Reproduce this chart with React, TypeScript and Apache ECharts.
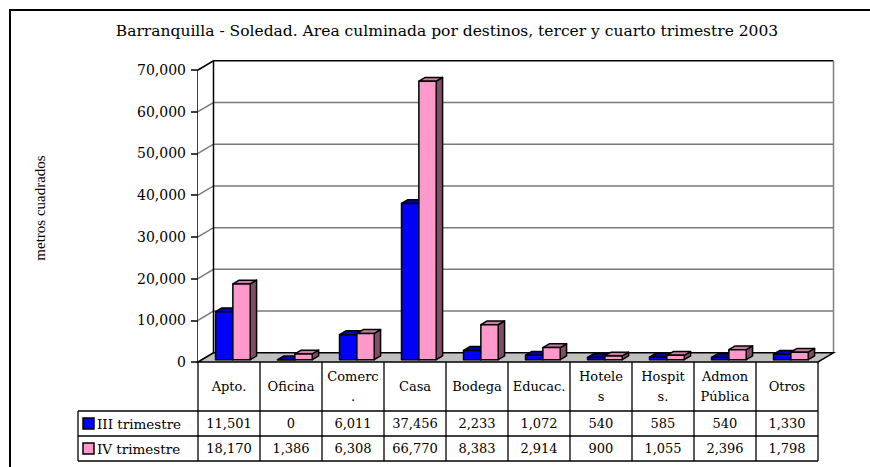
import React, { useEffect, useRef } from "react";
import * as echarts from "echarts";

const chartTitle =
  "Barranquilla - Soledad. Area culminada por destinos, tercer y cuarto trimestre 2003";
const yAxisTitle = "metros cuadrados";
const categories = [
  "Apto.",
  "Oficina",
  "Comerc\n.",
  "Casa",
  "Bodega",
  "Educac.",
  "Hotele\ns",
  "Hospit\ns.",
  "Admon\nPública",
  "Otros",
];
const seriesNames = ["III trimestre", "IV trimestre"];
const tercerTrimestre = [11501, 0, 6011, 37456, 2233, 1072, 540, 585, 540, 1330];
const cuartoTrimestre = [18170, 1386, 6308, 66770, 8383, 2914, 900, 1055, 2396, 1798];
const yTicks = [0, 10000, 20000, 30000, 40000, 50000, 60000, 70000];

const FRONT = ["#0000FF", "#FF99CC"];
const TOPC = ["#0000B8", "#CC7AA3"];
const SIDE = ["#000080", "#7F4D66"];
const SERIF = "'DejaVu Serif', serif";
const DX = 15.5;
const DY = -9.2;
const F0 = 0.25;
const F1 = 0.66;

const fmt = (v: number) => v.toLocaleString("en-US");

export default function App() {
  const ref = useRef<HTMLDivElement>(null);
  useEffect(() => {
    if (!ref.current) return;
    const chart = echarts.init(ref.current, undefined, { renderer: "svg" });
    const allSeries = [tercerTrimestre, cuartoTrimestre];

    const wallsRender = (params: any, api: any) => {
      const cs = params.coordSys;
      const x0 = cs.x, x1 = cs.x + cs.width, yT = cs.y, yB = cs.y + cs.height;
      const ch: any[] = [];
      ch.push({
        type: "polygon",
        shape: { points: [[x0, yT], [x0 + DX, yT + DY], [x0 + DX, yB + DY], [x0, yB]] },
        style: { fill: "#fff" },
      });
      ch.push({
        type: "rect",
        shape: { x: x0 + DX, y: yT + DY, width: cs.width, height: cs.height },
        style: { fill: "#fff" },
      });
      yTicks.forEach((v) => {
        const y = api.coord([0, v])[1];
        ch.push({
          type: "polyline",
          shape: { points: [[x0, y], [x0 + DX, y + DY], [x1 + DX, y + DY]] },
          style: { stroke: v === yTicks[yTicks.length - 1] ? "#000" : "#7a7a7a", lineWidth: 1.5, fill: null },
        });
      });
      ch.push({
        type: "line",
        shape: { x1: x0 + DX, y1: yT + DY, x2: x0 + DX, y2: yB + DY },
        style: { stroke: "#000", lineWidth: 1.5 },
      });
      ch.push({
        type: "line",
        shape: { x1: x1 + DX, y1: yT + DY, x2: x1 + DX, y2: yB + DY },
        style: { stroke: "#808080", lineWidth: 1.5 },
      });
      ch.push({
        type: "polygon",
        shape: { points: [[x0, yB], [x1, yB], [x1 + DX, yB + DY], [x0 + DX, yB + DY]] },
        style: { fill: "#C0C0C0", stroke: "#000", lineWidth: 1.5 },
      });
      return { type: "group", children: ch };
    };

    const barRender = (sIdx: number) => (params: any, api: any) => {
      const i = api.value(0);
      const v = api.value(1);
      const [cx, y0] = api.coord([i, 0]);
      const y1 = api.coord([i, v])[1];
      const bw = api.size([1, 0])[0];
      const w = bw * 0.28;
      const ox = DX * F0, oy = DY * F0;
      const dx = DX * (F1 - F0), dy = DY * (F1 - F0);
      const l = (sIdx === 0 ? cx - w : cx) + ox;
      const r = l + w;
      const t = y1 + oy;
      const b = y0 + oy;
      const st = { stroke: "#000", lineWidth: 1.5, lineJoin: "round" };
      return {
        type: "group",
        children: [
          {
            type: "polygon",
            shape: { points: [[r, t], [r + dx, t + dy], [r + dx, b + dy], [r, b]] },
            style: { ...st, fill: SIDE[sIdx] },
          },
          {
            type: "polygon",
            shape: { points: [[l, t], [r, t], [r + dx, t + dy], [l + dx, t + dy]] },
            style: { ...st, fill: TOPC[sIdx] },
          },
          {
            type: "rect",
            shape: { x: l, y: t, width: w, height: b - t },
            style: { ...st, fill: FRONT[sIdx] },
          },
        ],
      };
    };

    const tableRender = (params: any, api: any) => {
      const i = api.value(0);
      const cs = params.coordSys;
      const yB = cs.y + cs.height;
      const hBot = yB + 49;
      const r1Bot = yB + 74;
      const r2Bot = yB + 99;
      const [cx] = api.coord([i, 0]);
      const bw = api.size([1, 0])[0];
      const l = cx - bw / 2;
      const r = cx + bw / 2;
      const ls = { stroke: "#000", lineWidth: 1.3 };
      const ts = { fontFamily: SERIF, fontSize: 13, fill: "#000", align: "center", verticalAlign: "middle" };
      const ch: any[] = [];
      ch.push({ type: "line", shape: { x1: l, y1: yB, x2: l, y2: r2Bot }, style: ls });
      if (i === categories.length - 1) {
        ch.push({ type: "line", shape: { x1: r, y1: yB, x2: r, y2: r2Bot }, style: ls });
      }
      ch.push({
        type: "text",
        style: { ...ts, text: categories[i], x: cx, y: (yB + hBot) / 2, lineHeight: 20 },
      });
      ch.push({ type: "text", style: { ...ts, text: fmt(tercerTrimestre[i]), x: cx, y: (hBot + r1Bot) / 2 } });
      ch.push({ type: "text", style: { ...ts, text: fmt(cuartoTrimestre[i]), x: cx, y: (r1Bot + r2Bot) / 2 } });
      if (i === 0) {
        const legL = 78;
        const x1 = cs.x + cs.width;
        [hBot, r1Bot, r2Bot].forEach((y) =>
          ch.push({ type: "line", shape: { x1: legL, y1: y, x2: x1, y2: y }, style: ls })
        );
        ch.push({ type: "line", shape: { x1: legL, y1: hBot, x2: legL, y2: r2Bot }, style: ls });
        [hBot, r1Bot].forEach((y, k) => {
          const yc = y + 12.5;
          ch.push({
            type: "rect",
            shape: { x: legL + 5, y: yc - 5.5, width: 11, height: 11 },
            style: { fill: FRONT[k], stroke: "#000", lineWidth: 1.5 },
          });
          ch.push({
            type: "text",
            style: { ...ts, fontSize: 13.5, align: "left", text: seriesNames[k], x: legL + 19, y: yc },
          });
        });
      }
      return { type: "group", children: ch };
    };

    chart.setOption({
      animation: false,
      backgroundColor: "#fff",
      grid: { left: 198, right: 52, top: 70, bottom: 105, containLabel: false },
      xAxis: {
        type: "category",
        data: categories,
        axisLine: { show: false },
        axisTick: { show: false },
        axisLabel: { show: false },
        splitLine: { show: false },
      },
      yAxis: {
        type: "value",
        min: 0,
        max: 70000,
        interval: 10000,
        splitLine: { show: false },
        axisLine: { show: true, lineStyle: { color: "#000", width: 1.5 } },
        axisTick: { show: true, length: 7, lineStyle: { color: "#000", width: 1.5 } },
        axisLabel: {
          fontFamily: SERIF,
          fontSize: 14,
          color: "#000",
          margin: 12,
          formatter: (v: number) => fmt(v),
        },
      },
      graphic: [
        {
          type: "rect",
          shape: { x: 10, y: 10, width: 900, height: 500 },
          style: { fill: "none", stroke: "#000", lineWidth: 2 },
          silent: true,
        },
        {
          type: "text",
          x: 447,
          y: 31,
          style: {
            text: chartTitle,
            fontFamily: SERIF,
            fontSize: 15.5,
            fill: "#000",
            align: "center",
            verticalAlign: "middle",
          },
          silent: true,
        },
        {
          type: "text",
          x: 40,
          y: 208,
          rotation: Math.PI / 2,
          style: {
            text: yAxisTitle,
            fontFamily: "'Liberation Serif', serif",
            fontSize: 15,
            fill: "#000",
            align: "center",
            verticalAlign: "middle",
          },
          silent: true,
        },
      ],
      series: [
        {
          type: "custom",
          name: "walls",
          silent: true,
          data: [[0, 0]],
          renderItem: wallsRender,
          z: 1,
        },
        ...allSeries.map((vals, s) => ({
          type: "custom",
          name: seriesNames[s],
          silent: true,
          data: vals.map((v, i) => [i, v]),
          renderItem: barRender(s),
          z: 2,
        })),
        {
          type: "custom",
          name: "tabla",
          silent: true,
          data: categories.map((_, i) => [i, 0]),
          renderItem: tableRender,
          z: 3,
        },
      ],
    });
    return () => chart.dispose();
  }, []);
  return (
    <div
      ref={ref}
      style={{ position: "fixed", left: 0, top: 0, width: 870, height: 467 }}
    />
  );
}
